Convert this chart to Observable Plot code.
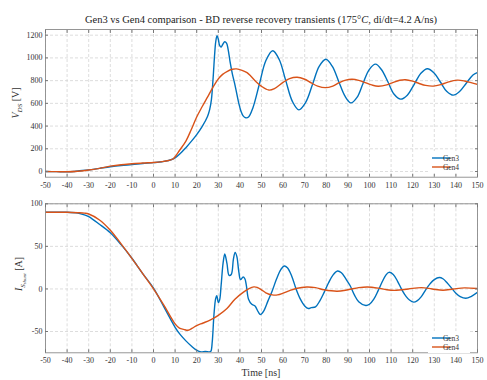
<!DOCTYPE html>
<html><head><meta charset="utf-8">
<script src="https://cdn.jsdelivr.net/npm/d3@7"></script>
<script src="https://cdn.jsdelivr.net/npm/@observablehq/plot@0.6"></script>
<style>
body{margin:0;background:#fff;}
#wrap{position:relative;width:487px;height:380px;font-family:"Liberation Serif",serif;overflow:hidden;}
#title{position:absolute;left:45px;width:432px;top:14px;text-align:center;font-size:10.5px;line-height:12px;color:#222;white-space:nowrap;}
#topPanel{position:absolute;left:0;top:0;}
#botPanel{position:absolute;left:0;top:190px;}
</style></head><body>
<div id="wrap">
<div id="topPanel"></div><div id="botPanel"></div>
<div id="title">Gen3 vs Gen4 comparison - BD reverse recovery transients (175°<i>C</i>, di/dt=4.2 A/ns)</div>
</div>
<script>
// ---------- data ----------
const seriesNames = ["Gen3", "Gen4"];
const xTicks = [-50,-40,-30,-20,-10,0,10,20,30,40,50,60,70,80,90,100,110,120,130,140,150];
const vTicks = [0,200,400,600,800,1000,1200];
const iTicks = [-50,0,50,100];

// V_DS, Gen3
const vGen3T = [-50,-45,-40,-37,-35,-30,-25,-20,-15,-10,-5,0,4,7,10,12.5,15,17.5,20,22.5,25,26,26.8,27.3,27.8,28.3,28.8,29.4,30,30.6,31.3,32.1,33,33.8,34.5,35.5,36.5,37.5,38.5,39.5,40.5,41.5,42.7,44,46,49,52,55.2,58.2,61.2,64.3,67.3,70.5,73.6,76.7,79.8,82.8,85.7,88.6,91.4,94.3,97,99.8,102.8,105.5,108.5,111.4,114.4,117.5,120.7,123.8,126.8,129.9,132.8,135.7,138.8,141.7,144.8,147.9,150];
const vGen3 = [0,-1,-3,0,5,14,28,42,53,61,70,78,86,97,120,160,210,265,325,395,485,545,630,740,880,1030,1140,1195,1165,1110,1095,1120,1142,1130,1080,960,860,780,690,600,530,490,473,480,560,768,975,1063,986,802,617,543,610,765,925,988,925,795,665,604,655,775,895,945,898,790,680,637,672,768,865,905,868,788,707,672,704,777,850,872];
// V_DS, Gen4
const vGen4T = [-50,-45,-40,-35,-30,-25,-20,-15,-10,-5,0,4,7,9,10,12,15,17.5,20,22.5,25,27.5,30,32,34,36.5,38.5,41,43.3,45,47.5,50,53.4,56,60,63,66.5,70,73,76,79.6,83,86,89,92,95,98,101,104,108,111,114,116.7,120,123,126,129.5,133,136,140.6,144,147,150];
const vGen4 = [0,-1,-2,3,13,28,47,60,68,75,80,87,97,110,130,185,268,370,480,570,655,740,815,855,880,900,903,890,870,840,790,750,717,730,785,818,830,812,780,752,738,752,782,805,812,802,782,762,750,762,785,803,808,795,775,758,752,765,785,804,797,782,767];

// I_S,shunt, Gen3
const iGen3T = [-50,-45,-40,-35,-32,-30,-25,-20,-15,-10,-5,0,5,8,10,12.5,15,17.5,20,22,24,26,26.6,27.2,28,28.8,29.3,30,30.6,31.3,32.2,33,34,35,36,37,37.8,38.6,39.5,40.3,41.5,42.3,43,44,45.5,47,48.5,49.5,51,53,55,57,59,60.5,62,64,66,68,70,71.7,73,75,77,79,81,83,85.2,87,89,91,93,95,98.3,100,102,104,106,107.5,109,111,113,115,117,118.5,120.5,122,124,126,128,130,132.3,134,136,138,140,142,144.6,147,150];
const iGen3 = [90,90,90,89,87,85,76,66,52,36,18,1,-22,-36,-45,-54,-61,-67,-72,-74,-73.5,-74,-73,-62,-30,-11,-8,-16,-13,4,30,41,30,16,17,35,43,38,20,11,14,12,4,-12,-18,-20,-27,-30,-26,-14,-2,12,23,27,25,15,0,-12,-20,-23,-22,-21,-14,-4,7,16,21,19,12,4,-7,-15,-19.5,-18,-12,-2,9,16,19.5,17,9,-1,-9,-13,-15.5,-14,-9,-1,6,11,13.5,12,7,1,-5,-9,-11,-9,-4];
// I_S,shunt, Gen4
const iGen4T = [-50,-40,-35,-32,-30,-25,-20,-15,-10,-5,0,5,8,10,12,14,16,18,20,23,26.2,30,34,37.7,41.5,44,46.5,48,50,52,55,57.4,60,63,66,71,75,79,85,90,95,99,104,108,112.4,118,124,129,134,139,144,150];
const iGen4 = [90,90,89.5,89,88,81,69,53,36,18,0,-20,-33,-41,-46,-47.5,-48.5,-46,-43,-40,-36.6,-31,-23,-12,-4,0,2.4,1.8,-1,-4.5,-7,-7,-5,-2,0.5,2.3,1.5,-1,-2.7,-1,1.5,2.3,1,-1,-1.6,0,1.6,0,-1.6,0,1.2,0.4];

const colors = ["#0072BD", "#D95319"];

// ---------- build ----------
const toRows = (T, V, s) => T.map((t, i) => ({t, v: V[i], s}));
const vRows = [toRows(vGen3T, vGen3, "Gen3"), toRows(vGen4T, vGen4, "Gen4")];
const iRows = [toRows(iGen3T, iGen3, "Gen3"), toRows(iGen4T, iGen4, "Gen4")];

const fmt = d => String(d);
const gridStyle = {stroke: "#d4d4d4", strokeOpacity: 1, strokeDasharray: "3,2", strokeWidth: 0.8};

function panel(rows, yDomain, yTicks, mt, mb) {
  return Plot.plot({
    width: 487, height: 190,
    marginLeft: 45, marginRight: 10, marginTop: mt, marginBottom: mb,
    style: {fontFamily: "'Liberation Serif', serif", fontSize: "8px", color: "#333", background: "transparent", overflow: "visible"},
    x: {domain: [-50, 150]},
    y: {domain: yDomain},
    marks: [
      Plot.gridX(xTicks, gridStyle),
      Plot.gridY(yTicks, gridStyle),
      ...rows.map((r, k) => Plot.line(r, {x: "t", y: "v", stroke: colors[k], strokeWidth: 1.4, curve: "catmull-rom", clip: true})),
      Plot.frame({stroke: "#8a8a8a", strokeWidth: 0.9}),
      Plot.axisX({ticks: xTicks, anchor: "bottom", tickSize: -3, tickPadding: 8, tickFormat: fmt, label: null, stroke: "#777"}),
      Plot.axisX({ticks: xTicks, anchor: "top", tickSize: -3, tickFormat: () => "", label: null, stroke: "#777"}),
      Plot.axisY({ticks: yTicks, anchor: "left", tickSize: -3, tickPadding: 6, tickFormat: fmt, label: null, stroke: "#777"}),
      Plot.axisY({ticks: yTicks, anchor: "right", tickSize: -3, tickFormat: () => "", label: null, stroke: "#777"})
    ]
  });
}

function legend(svg, y0) {
  const g = d3.select(svg).append("g");
  g.append("rect").attr("x", 428).attr("y", y0 - 7).attr("width", 42).attr("height", 22).attr("fill", "white");
  seriesNames.forEach((n, k) => {
    const y = y0 + k * 9;
    g.append("line").attr("x1", 432).attr("x2", 450).attr("y1", y).attr("y2", y)
      .attr("stroke", colors[k]).attr("stroke-width", 1.4);
    g.append("text").attr("x", 451).attr("y", y).attr("dy", "0.35em")
      .attr("font-size", 7.5).attr("fill", "#333").text(n);
  });
}

function ylabel(svg, x, y, parts) {
  const t = d3.select(svg).append("text")
    .attr("transform", `translate(${x},${y}) rotate(-90)`)
    .attr("text-anchor", "middle").attr("font-size", 10).attr("fill", "#333");
  parts.forEach(p => {
    const ts = t.append("tspan").text(p.text);
    if (p.italic) ts.attr("font-style", "italic");
    if (p.size) ts.attr("font-size", p.size);
    if (p.dy) ts.attr("dy", p.dy);
  });
}

const topSvg = panel(vRows, [-50, 1250], vTicks, 29, 13.3);
legend(topSvg, 158);
ylabel(topSvg, 19, 103, [
  {text: "V", italic: true},
  {text: "DS", italic: true, size: 7, dy: 2.5},
  {text: " [V]", dy: -2.5}
]);
document.getElementById("topPanel").appendChild(topSvg);

const botSvg = panel(iRows, [-75, 100], iTicks, 13.3, 27.7);
legend(botSvg, 148);
ylabel(botSvg, 22, 84, [
  {text: "I", italic: true},
  {text: "S", italic: true, size: 7, dy: 2.5},
  {text: "shunt", italic: true, size: 5, dy: 1.5},
  {text: " [A]", dy: -4}
]);
d3.select(botSvg).append("text").attr("x", 261).attr("y", 182).attr("dy", "0.35em")
  .attr("text-anchor", "middle").attr("font-size", 10).attr("fill", "#333").text("Time [ns]");
document.getElementById("botPanel").appendChild(botSvg);
</script>
</body></html>
